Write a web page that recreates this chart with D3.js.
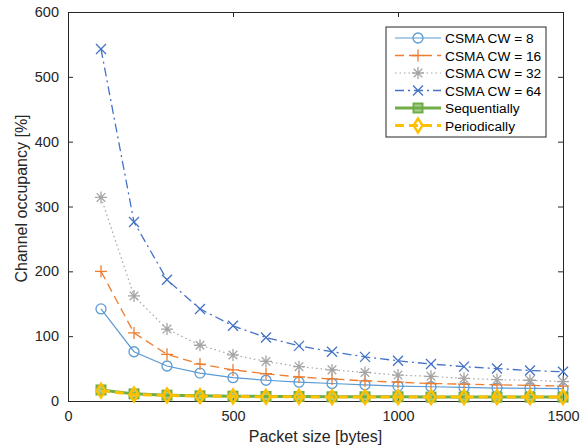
<!DOCTYPE html>
<html>
<head>
<meta charset="utf-8">
<script src="https://d3js.org/d3.v7.min.js"></script>
<style>
  body { margin: 0; background: #fff; }
  text { font-family: "Liberation Sans", Arial, sans-serif; }
</style>
</head>
<body>
<script>
// dati
const packetSize = [100, 200, 300, 400, 500, 600, 700, 800, 900, 1000, 1100, 1200, 1300, 1400, 1500];
const cw8   = [142, 76, 54, 43, 36, 32, 29, 27, 25, 23, 22, 21, 20, 19.5, 19];
const cw16  = [200, 105, 72, 57, 48, 42, 37, 34, 31, 29, 27, 26, 25, 24, 23];
const cw32  = [314, 162, 111, 86, 71, 61, 53, 48, 44, 40, 38, 35, 33, 32, 30];
const cw64  = [543, 276, 187, 142, 116, 98, 85, 76, 68, 62, 57, 53, 50, 47, 45];
const seqv  = [17, 11, 9, 8, 7.5, 7, 7, 6.5, 6.5, 6.5, 6, 6, 6, 6, 6];
const perv  = [16, 10, 8.5, 7.5, 7, 6.5, 6.5, 6, 6, 6, 6, 6, 6, 6, 6];
const xTicks = [0, 500, 1000, 1500];
const yTicks = [0, 100, 200, 300, 400, 500, 600];
const names = ['CSMA CW = 8', 'CSMA CW = 16', 'CSMA CW = 32', 'CSMA CW = 64', 'Sequentially', 'Periodically'];

const series = [
  {name: names[0], values: cw8,  color: '#5B9BD5', dash: null,      width: 1.2, marker: 'circle'},
  {name: names[1], values: cw16, color: '#ED7D31', dash: '9,5',     width: 1.3, marker: 'plus'},
  {name: names[2], values: cw32, color: '#A5A5A5', dash: '1.5,3',   width: 1.2, marker: 'star'},
  {name: names[3], values: cw64, color: '#4472C4', dash: '9,4,2,4', width: 1.3, marker: 'cross'},
  {name: names[4], values: seqv, color: '#70AD47', dash: null,      width: 3,   marker: 'square'},
  {name: names[5], values: perv, color: '#FFC000', dash: '9,5',     width: 3,   marker: 'diamond'}
];

const svg = d3.select('body')
    .append('svg')
    .attr('width', 587)
    .attr('height', 447);

const margin = {top: 12, right: 24, bottom: 46, left: 68};
const W = 587 - margin.left - margin.right;
const H = 447 - margin.top - margin.bottom;

const x = d3.scaleLinear().domain([0, 1500]).range([0, W]);
const y = d3.scaleLinear().domain([0, 600]).range([H, 0]);

const g = svg.append('g')
    .attr('transform', 'translate(' + margin.left + ',' + margin.top + ')');

// assi (tick verso l'interno, stile matlab)
const axisColor = '#262626';
function styleAxis(sel, showText) {
  sel.select('.domain').attr('stroke', axisColor).attr('stroke-width', 1);
  sel.selectAll('.tick line').attr('stroke', axisColor);
  sel.selectAll('.tick text')
     .attr('fill', axisColor)
     .style('font-size', '14.5px')
     .style('display', showText ? null : 'none');
}

g.append('g').attr('transform', 'translate(0,' + H + ')')
  .call(d3.axisBottom(x).tickValues(xTicks).tickFormat(d3.format('d')).tickSizeInner(-5).tickSizeOuter(0).tickPadding(10))
  .call(s => styleAxis(s, true));
g.append('g')
  .call(d3.axisTop(x).tickValues(xTicks).tickSizeInner(-5).tickSizeOuter(0))
  .call(s => styleAxis(s, false));
g.append('g')
  .call(d3.axisLeft(y).tickValues(yTicks).tickSizeInner(-5).tickSizeOuter(0).tickPadding(9))
  .call(s => styleAxis(s, true));
g.append('g').attr('transform', 'translate(' + W + ',0)')
  .call(d3.axisRight(y).tickValues(yTicks).tickSizeInner(-5).tickSizeOuter(0))
  .call(s => styleAxis(s, false));

// etichette assi
svg.append('text')
  .attr('x', margin.left + W / 2).attr('y', 442)
  .attr('text-anchor', 'middle').attr('fill', axisColor)
  .style('font-size', '16px')
  .text('Packet size [bytes]');
svg.append('text')
  .attr('transform', 'translate(27,' + (margin.top + H / 2 - 8) + ') rotate(-90)')
  .attr('text-anchor', 'middle').attr('fill', axisColor)
  .style('font-size', '16px')
  .text('Channel occupancy [%]');

// disegno marker
function drawMarker(sel, type, color, cx, cy) {
  const m = sel.append('g').attr('transform', 'translate(' + cx + ',' + cy + ')')
      .attr('stroke', color).attr('fill', 'none').attr('stroke-width', 1.3);
  if (type === 'circle') {
    m.append('circle').attr('r', 5);
  } else if (type === 'plus') {
    m.append('path').attr('d', 'M-6,0H6M0,-6V6');
  } else if (type === 'star') {
    m.append('path').attr('d', 'M-6,0H6M0,-6V6M-4.3,-4.3L4.3,4.3M-4.3,4.3L4.3,-4.3');
  } else if (type === 'cross') {
    m.append('path').attr('d', 'M-5,-5L5,5M-5,5L5,-5');
  } else if (type === 'square') {
    m.append('rect').attr('x', -4.5).attr('y', -4.5).attr('width', 9).attr('height', 9)
      .attr('fill', color).attr('fill-opacity', 0.6).attr('stroke-width', 2);
  } else if (type === 'diamond') {
    m.append('path').attr('d', 'M0,-7L4.5,0L0,7L-4.5,0Z').attr('stroke-width', 2.4);
  }
}

const line = d3.line()
    .x((d, i) => x(packetSize[i]))
    .y(d => y(d));

series.forEach(s => {
  const sg = g.append('g').attr('class', 'serie');
  sg.append('path')
    .attr('d', line(s.values))
    .attr('fill', 'none')
    .attr('stroke', s.color)
    .attr('stroke-width', s.width)
    .attr('stroke-dasharray', s.dash);
  s.values.forEach((v, i) => drawMarker(sg, s.marker, s.color, x(packetSize[i]), y(v)));
});

// legenda
const lx = 386, ly = 27, lw = 160, lh = 110;
const legend = svg.append('g');
legend.append('rect')
  .attr('x', lx).attr('y', ly).attr('width', lw).attr('height', lh)
  .attr('fill', '#fff').attr('stroke', axisColor).attr('stroke-width', 1);

series.forEach((s, i) => {
  const yy = ly + 11 + i * 17.5;
  legend.append('line')
    .attr('x1', lx + 9).attr('x2', lx + 55).attr('y1', yy).attr('y2', yy)
    .attr('stroke', s.color).attr('stroke-width', s.width)
    .attr('stroke-dasharray', s.dash);
  drawMarker(legend, s.marker, s.color, lx + 32, yy);
  legend.append('text')
    .attr('x', lx + 59).attr('y', yy + 5)
    .attr('fill', '#000')
    .style('font-size', '13.7px')
    .text(s.name);
});
</script>
</body>
</html>
